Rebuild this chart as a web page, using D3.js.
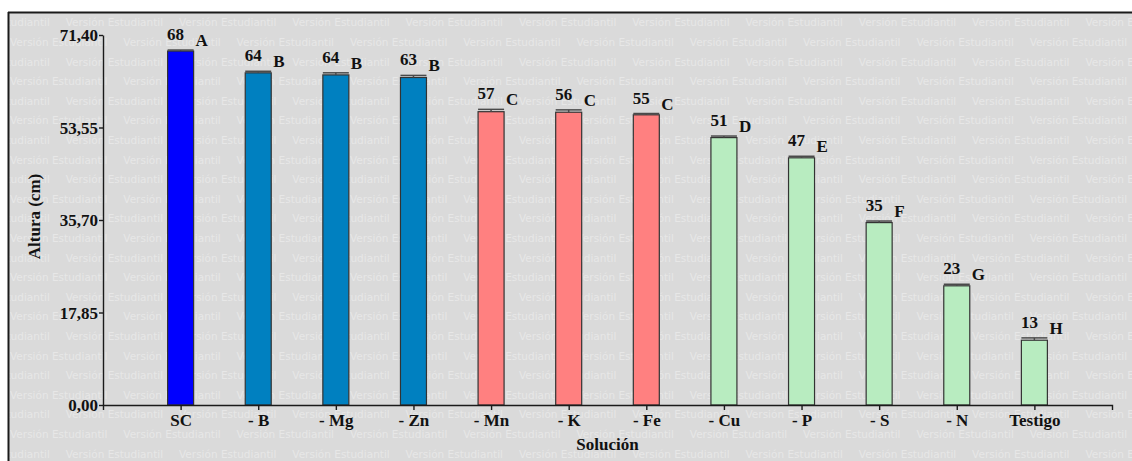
<!DOCTYPE html>
<html>
<head>
<meta charset="utf-8">
<script src="https://cdn.jsdelivr.net/npm/d3@7"></script>
<style>
  html, body { margin: 0; padding: 0; background: #ffffff; }
  svg { display: block; }
</style>
</head>
<body>
<script>
// ---- data ----
const categories = ["SC", "- B", "- Mg", "- Zn", "- Mn", "- K", "- Fe", "- Cu", "- P", "- S", "- N", "Testigo"];
const means      = [68.3, 64.1, 63.7, 63.2, 56.6, 56.5, 56.0, 51.6, 47.7, 35.2, 23.0, 12.5];
const errors     = [0.2, 0.3, 0.4, 0.4, 0.45, 0.45, 0.25, 0.3, 0.3, 0.3, 0.3, 0.45];
const valueLabels = ["68", "64", "64", "63", "57", "56", "55", "51", "47", "35", "23", "13"];
const groupLetters = ["A", "B", "B", "B", "C", "C", "C", "D", "E", "F", "G", "H"];
const colorGroups = [0, 1, 1, 1, 2, 2, 2, 3, 3, 3, 3, 3];
const groupColors = ["#0000ff", "#0080c0", "#ff8080", "#b8ecc0"];
const yTicks = [0, 17.85, 35.70, 53.55, 71.40];
const yTitle = "Altura (cm)";
const xTitle = "Solución";
const watermarkText = "Versión Estudiantil";

// ---- layout ----
const W = 1132, H = 461;
const mLeft = 103, mRight = 1112, mTop = 35, mBottom = 405;
const serif = "'Liberation Serif', 'Times New Roman', serif";
const fs = 17;

const svg = d3.select("body").append("svg").attr("width", W).attr("height", H);

// panel background
svg.append("rect").attr("x", 8).attr("y", 12).attr("width", W - 8).attr("height", H - 12).attr("fill", "#dadada");

// watermark
svg.append("clipPath").attr("id", "panelClip")
  .append("rect").attr("x", 9).attr("y", 13).attr("width", W - 9).attr("height", H - 13);
const wm = svg.append("g").attr("clip-path", "url(#panelClip)")
  .attr("font-family", "'DejaVu Sans', Verdana, sans-serif").attr("font-size", 10.5)
  .attr("fill", "#e7e7e7");
const period = 113.3, rowGap = 19.6;
for (let k = 0; k < 23; k++) {
  const yy = 22.3 + rowGap * k;
  const off = (k % 2 === 0) ? 65.7 : 10;
  for (let xx = off - period; xx < W; xx += period) {
    wm.append("text").attr("x", xx).attr("y", yy).attr("dominant-baseline", "central").text(watermarkText);
  }
}

// frame lines
svg.append("line").attr("x1", 8).attr("x2", W).attr("y1", 12.5).attr("y2", 12.5).attr("stroke", "#1a1a1a").attr("stroke-width", 2);
svg.append("line").attr("x1", 8.5).attr("x2", 8.5).attr("y1", 12).attr("y2", H).attr("stroke", "#1a1a1a").attr("stroke-width", 2);

// scales
const x = d3.scalePoint().domain(categories).range([mLeft, mRight]).padding(1);
const y = d3.scaleLinear().domain([0, 71.4]).range([mBottom, mTop]);
const bw = 26;

const data = categories.map((c, i) => ({
  c, v: means[i], e: errors[i], lab: valueLabels[i], g: groupLetters[i], col: groupColors[colorGroups[i]]
}));

// bars
svg.append("g").selectAll("rect").data(data).join("rect")
  .attr("x", d => x(d.c) - bw / 2)
  .attr("y", d => y(d.v))
  .attr("width", bw)
  .attr("height", d => y(0) - y(d.v))
  .attr("fill", d => d.col)
  .attr("stroke", "#333")
  .attr("stroke-width", 1.2);

// error bars
const eg = svg.append("g").attr("stroke", "#4a4a4a").attr("stroke-width", 1.5);
eg.selectAll("line.v").data(data).join("line").attr("class", "v")
  .attr("x1", d => x(d.c)).attr("x2", d => x(d.c))
  .attr("y1", d => y(d.v)).attr("y2", d => y(d.v + d.e));
eg.selectAll("line.h").data(data).join("line").attr("class", "h")
  .attr("x1", d => x(d.c) - bw / 2).attr("x2", d => x(d.c) + bw / 2)
  .attr("y1", d => y(d.v + d.e)).attr("y2", d => y(d.v + d.e));

// labels
const lg = svg.append("g").attr("font-family", serif).attr("font-weight", "bold").attr("font-size", fs).attr("fill", "#111");
lg.selectAll("text.num").data(data).join("text").attr("class", "num")
  .attr("x", d => x(d.c) - 5).attr("y", d => y(d.v + d.e) - 10)
  .attr("text-anchor", "middle").text(d => d.lab);
lg.selectAll("text.grp").data(data).join("text").attr("class", "grp")
  .attr("x", d => x(d.c) + 15).attr("y", d => y(d.v + d.e) - 4)
  .attr("text-anchor", "start").text(d => d.g);

// axes
const fmt = d3.formatLocale({decimal: ",", thousands: ".", grouping: [3], currency: ["", ""]}).format(".2f");
const yAxis = svg.append("g").attr("transform", `translate(${mLeft},0)`)
  .call(d3.axisLeft(y).tickValues(yTicks).tickFormat(fmt).tickSize(4).tickSizeOuter(0).tickPadding(1));
const xAxis = svg.append("g").attr("transform", `translate(0,${mBottom})`)
  .call(d3.axisBottom(x).tickSize(5).tickSizeOuter(5).tickPadding(4));
[yAxis, xAxis].forEach(a => {
  a.selectAll("path, line").attr("stroke", "#1a1a1a").attr("stroke-width", 1.4);
  a.selectAll("text").attr("font-family", serif).attr("font-weight", "bold").attr("font-size", fs).attr("fill", "#111");
});
yAxis.selectAll("text").attr("dy", "0.34em");

// titles
svg.append("text").attr("transform", "translate(40,216.5) rotate(-90)")
  .attr("text-anchor", "middle").attr("font-family", serif).attr("font-weight", "bold")
  .attr("font-size", fs).attr("fill", "#111").text(yTitle);
svg.append("text").attr("x", (mLeft + mRight) / 2).attr("y", 450)
  .attr("text-anchor", "middle").attr("font-family", serif).attr("font-weight", "bold")
  .attr("font-size", fs).attr("fill", "#111").text(xTitle);
</script>
</body>
</html>
